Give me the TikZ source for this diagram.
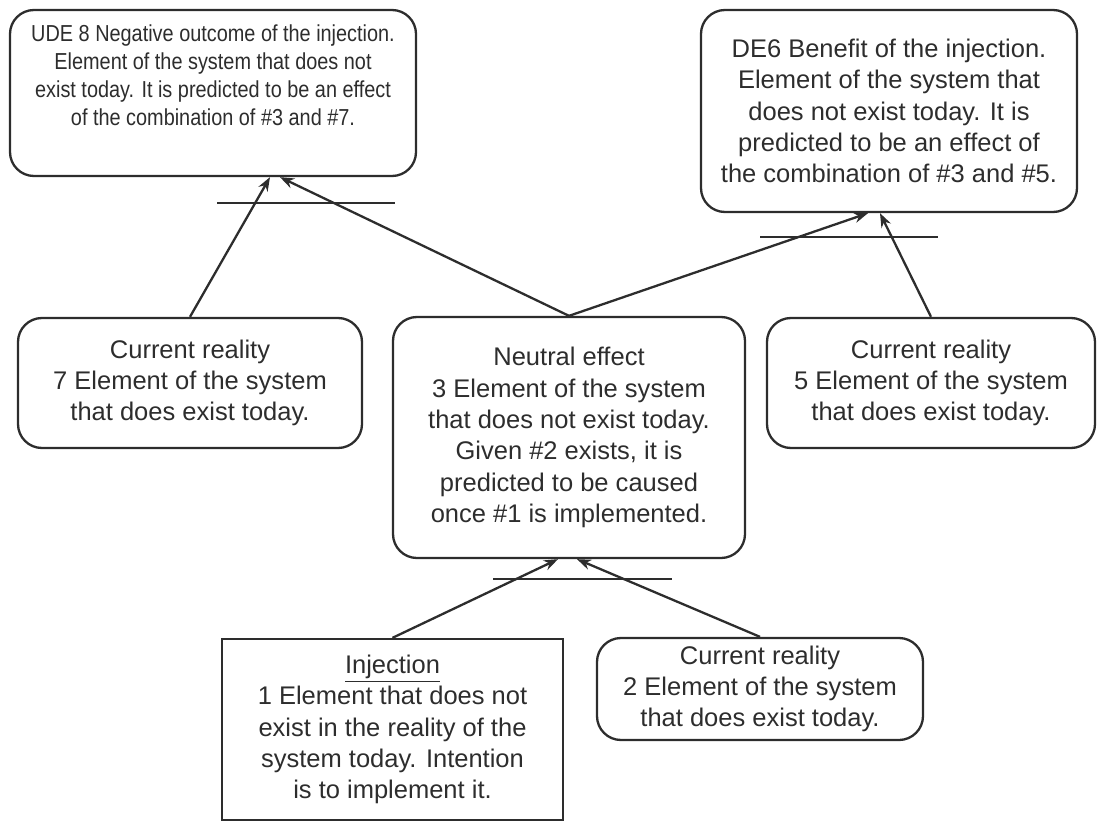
\documentclass[tikz,border=0pt]{standalone}
\usepackage{fontspec}
\setmainfont{Liberation Sans}
\newfontfamily\narrowsans[FakeStretch=0.86]{Liberation Sans}
\usetikzlibrary{arrows.meta}
\definecolor{inkgray}{RGB}{45,45,45}

\begin{document}
\begin{tikzpicture}[
    x=0.5bp, y=-0.5bp,
    box/.style={draw=inkgray, line width=1.15bp, rounded corners=12bp, align=center, inner sep=0pt, text=inkgray, font=\fontsize{12.8}{15.75}\selectfont},
    sqbox/.style={box, rounded corners=0pt},
    bar/.style={draw=inkgray, line width=1.15bp},
    link/.style={->, draw=inkgray, line width=1.15bp},
    >={Stealth[length=7bp,width=5.2bp]}
]
\useasboundingbox (0,0) rectangle (1097,822);
% effects at the top
\node[box, minimum width=203bp, minimum height=83bp, font=\narrowsans\fontsize{11.6}{14}\selectfont] (ude8) at (213,93)
    {UDE 8 Negative outcome of the injection.\\Element of the system that does not\\exist today. It is predicted to be an effect\\of the combination of \#3 and \#7.\\[4bp]};
\node[box, minimum width=188bp, minimum height=101bp] (de6) at (889,111)
    {DE6 Benefit of the injection.\\Element of the system that\\does not exist today. It is\\predicted to be an effect of\\the combination of \#3 and \#5.};
% middle row
\node[box, minimum width=172bp, minimum height=65bp] (cr7) at (190,383)
    {Current reality\\7 Element of the system\\that does exist today.};
\node[box, minimum width=176bp, minimum height=120.5bp] (neutral) at (569,437.5)
    {Neutral effect\\3 Element of the system\\that does not exist today.\\Given \#2 exists, it is\\predicted to be caused\\once \#1 is implemented.};
\node[box, minimum width=164bp, minimum height=65bp] (cr5) at (931,383)
    {Current reality\\5 Element of the system\\that does exist today.};
% bottom row
\node[sqbox, minimum width=170.5bp, minimum height=90.5bp] (inject) at (392.5,729.5)
    {\underline{Injection}\\1 Element that does not\\exist in the reality of the\\system today. Intention\\is to implement it.};
\node[box, minimum width=163bp, minimum height=51bp] (cr2) at (760,689)
    {Current reality\\2 Element of the system\\that does exist today.};

% AND bars
\draw[bar] (217,203) -- (395,203);
\draw[bar] (760,237) -- (938,237);
\draw[bar] (493,579) -- (672,579);

% causal links
\draw[link] (cr7.north) -- ([xshift=28.5bp]ude8.south);
\draw[link] (neutral.north) -- ([xshift=33.5bp]ude8.south);
\draw[link] (neutral.north) -- ([xshift=-10.5bp]de6.south);
\draw[link] (cr5.north) -- ([xshift=-4.5bp]de6.south);
\draw[link] (inject.north) -- ([xshift=-5.5bp]neutral.south);
\draw[link] (cr2.north) -- ([xshift=4bp]neutral.south);
\end{tikzpicture}
\end{document}
